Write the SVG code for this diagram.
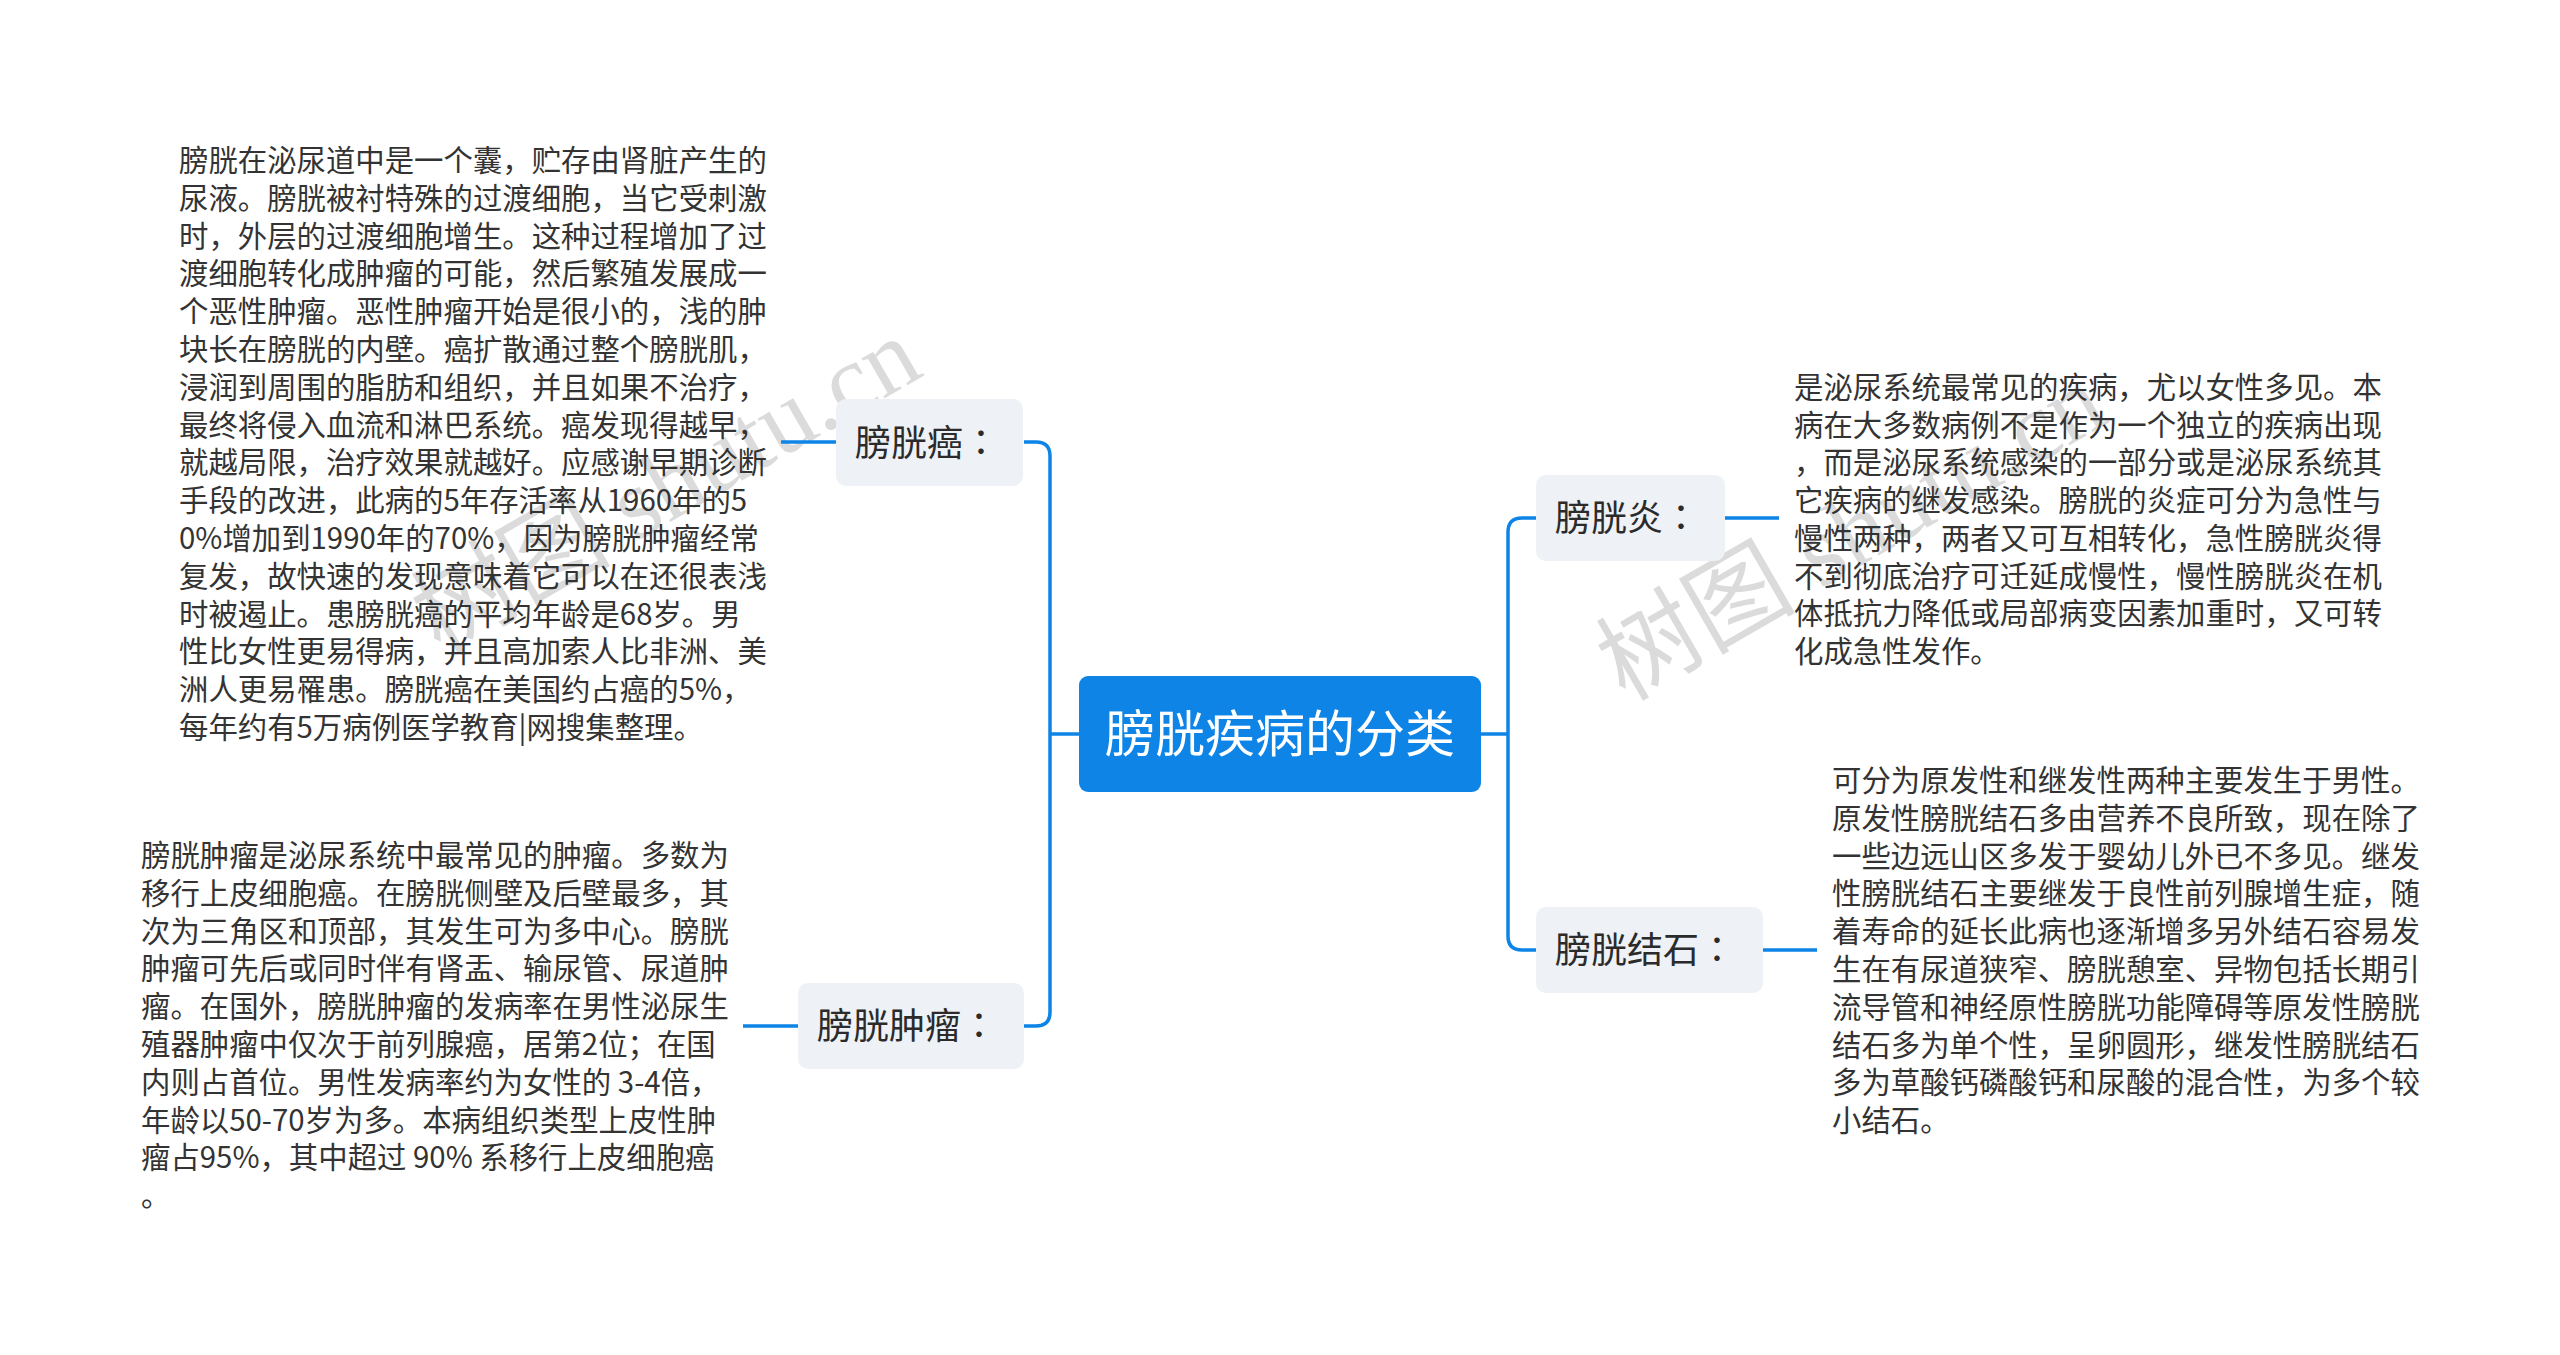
<svg xmlns="http://www.w3.org/2000/svg" width="2560" height="1355" viewBox="0 0 2560 1355">
<style>
.wm{font-family:"Liberation Serif","Noto Sans CJK SC",serif;font-size:100px;fill:#bdbdbd;fill-opacity:0.55}
.blk{font-family:"Noto Sans CJK SC","Noto Sans",sans-serif;font-size:29.4px;fill:#333333}
.sub{font-family:"Noto Sans CJK SC","Noto Sans",sans-serif;font-size:36px;fill:#2b2b2b}
.colon{font-family:"Noto Sans CJK JP","Noto Sans CJK SC",sans-serif}
.root{font-family:"Noto Sans CJK SC","Noto Sans",sans-serif;font-size:50px;fill:#ffffff}
.subbox{fill:#eef1f5}
.line{fill:none;stroke:#0d84e6;stroke-width:3.5;stroke-linecap:butt}
</style>
<rect width="2560" height="1355" fill="#ffffff"/>
<g id="watermarks">
<text class="wm" transform="translate(440,655) rotate(-30)">树图 shutu.cn</text>
<text class="wm" transform="translate(1625,702) rotate(-30)">树图 shutu.cn</text>
</g>
<g id="connectors">
<path class="line" d="M1079,734 H1050"/>
<path class="line" d="M1024,442 H1036 Q1050,442 1050,456 V1012 Q1050,1026 1036,1026 H1024"/>
<path class="line" d="M1481,734 H1508"/>
<path class="line" d="M1536,518 H1522 Q1508,518 1508,532 V936 Q1508,950 1522,950 H1536"/>
<path class="line" d="M836,442 H781"/>
<path class="line" d="M798,1026 H743"/>
<path class="line" d="M1725,518 H1779"/>
<path class="line" d="M1763,950 H1817"/>
</g>
<g id="root">
<rect x="1079" y="676" width="402" height="116" rx="9" fill="#0d84e6"/>
<text class="root" x="1280" y="752" text-anchor="middle">膀胱疾病的分类</text>
</g>
<g id="node-ai">
<rect class="subbox" x="836" y="399" width="187" height="87" rx="10"/>
<text class="sub" x="855" y="456">膀胱癌<tspan class="colon">：</tspan></text>
</g>
<g id="node-zhongliu">
<rect class="subbox" x="798" y="983" width="226" height="86" rx="10"/>
<text class="sub" x="817" y="1039">膀胱肿瘤<tspan class="colon">：</tspan></text>
</g>
<g id="node-yan">
<rect class="subbox" x="1536" y="475" width="189" height="86" rx="10"/>
<text class="sub" x="1555" y="531">膀胱炎<tspan class="colon">：</tspan></text>
</g>
<g id="node-jieshi">
<rect class="subbox" x="1536" y="907" width="227" height="86" rx="10"/>
<text class="sub" x="1555" y="963">膀胱结石<tspan class="colon">：</tspan></text>
</g>
<g id="text-ai">
<text class="blk" x="179" y="171">
<tspan x="179" dy="0">膀胱在泌尿道中是一个囊，贮存由肾脏产生的</tspan>
<tspan x="179" dy="37.8">尿液。膀胱被衬特殊的过渡细胞，当它受刺激</tspan>
<tspan x="179" dy="37.8">时，外层的过渡细胞增生。这种过程增加了过</tspan>
<tspan x="179" dy="37.8">渡细胞转化成肿瘤的可能，然后繁殖发展成一</tspan>
<tspan x="179" dy="37.8">个恶性肿瘤。恶性肿瘤开始是很小的，浅的肿</tspan>
<tspan x="179" dy="37.8">块长在膀胱的内壁。癌扩散通过整个膀胱肌，</tspan>
<tspan x="179" dy="37.8">浸润到周围的脂肪和组织，并且如果不治疗，</tspan>
<tspan x="179" dy="37.8">最终将侵入血流和淋巴系统。癌发现得越早，</tspan>
<tspan x="179" dy="37.8">就越局限，治疗效果就越好。应感谢早期诊断</tspan>
<tspan x="179" dy="37.8">手段的改进，此病的5年存活率从1960年的5</tspan>
<tspan x="179" dy="37.8">0%增加到1990年的70%，因为膀胱肿瘤经常</tspan>
<tspan x="179" dy="37.8">复发，故快速的发现意味着它可以在还很表浅</tspan>
<tspan x="179" dy="37.8">时被遏止。患膀胱癌的平均年龄是68岁。男</tspan>
<tspan x="179" dy="37.8">性比女性更易得病，并且高加索人比非洲、美</tspan>
<tspan x="179" dy="37.8">洲人更易罹患。膀胱癌在美国约占癌的5%，</tspan>
<tspan x="179" dy="37.8">每年约有5万病例医学教育|网搜集整理。</tspan>
</text>
</g>
<g id="text-zhongliu">
<text class="blk" x="141" y="866">
<tspan x="141" dy="0">膀胱肿瘤是泌尿系统中最常见的肿瘤。多数为</tspan>
<tspan x="141" dy="37.8">移行上皮细胞癌。在膀胱侧壁及后壁最多，其</tspan>
<tspan x="141" dy="37.8">次为三角区和顶部，其发生可为多中心。膀胱</tspan>
<tspan x="141" dy="37.8">肿瘤可先后或同时伴有肾盂、输尿管、尿道肿</tspan>
<tspan x="141" dy="37.8">瘤。在国外，膀胱肿瘤的发病率在男性泌尿生</tspan>
<tspan x="141" dy="37.8">殖器肿瘤中仅次于前列腺癌，居第2位；在国</tspan>
<tspan x="141" dy="37.8">内则占首位。男性发病率约为女性的 3-4倍，</tspan>
<tspan x="141" dy="37.8">年龄以50-70岁为多。本病组织类型上皮性肿</tspan>
<tspan x="141" dy="37.8">瘤占95%，其中超过 90% 系移行上皮细胞癌</tspan>
<tspan x="141" dy="37.8">。</tspan>
</text>
</g>
<g id="text-yan">
<text class="blk" x="1794" y="398">
<tspan x="1794" dy="0">是泌尿系统最常见的疾病，尤以女性多见。本</tspan>
<tspan x="1794" dy="37.7">病在大多数病例不是作为一个独立的疾病出现</tspan>
<tspan x="1794" dy="37.7">，而是泌尿系统感染的一部分或是泌尿系统其</tspan>
<tspan x="1794" dy="37.7">它疾病的继发感染。膀胱的炎症可分为急性与</tspan>
<tspan x="1794" dy="37.7">慢性两种，两者又可互相转化，急性膀胱炎得</tspan>
<tspan x="1794" dy="37.7">不到彻底治疗可迁延成慢性，慢性膀胱炎在机</tspan>
<tspan x="1794" dy="37.7">体抵抗力降低或局部病变因素加重时，又可转</tspan>
<tspan x="1794" dy="37.7">化成急性发作。</tspan>
</text>
</g>
<g id="text-jieshi">
<text class="blk" x="1832" y="791">
<tspan x="1832" dy="0">可分为原发性和继发性两种主要发生于男性。</tspan>
<tspan x="1832" dy="37.8">原发性膀胱结石多由营养不良所致，现在除了</tspan>
<tspan x="1832" dy="37.8">一些边远山区多发于婴幼儿外已不多见。继发</tspan>
<tspan x="1832" dy="37.8">性膀胱结石主要继发于良性前列腺增生症，随</tspan>
<tspan x="1832" dy="37.8">着寿命的延长此病也逐渐增多另外结石容易发</tspan>
<tspan x="1832" dy="37.8">生在有尿道狭窄、膀胱憩室、异物包括长期引</tspan>
<tspan x="1832" dy="37.8">流导管和神经原性膀胱功能障碍等原发性膀胱</tspan>
<tspan x="1832" dy="37.8">结石多为单个性，呈卵圆形，继发性膀胱结石</tspan>
<tspan x="1832" dy="37.8">多为草酸钙磷酸钙和尿酸的混合性，为多个较</tspan>
<tspan x="1832" dy="37.8">小结石。</tspan>
</text>
</g>
</svg>
